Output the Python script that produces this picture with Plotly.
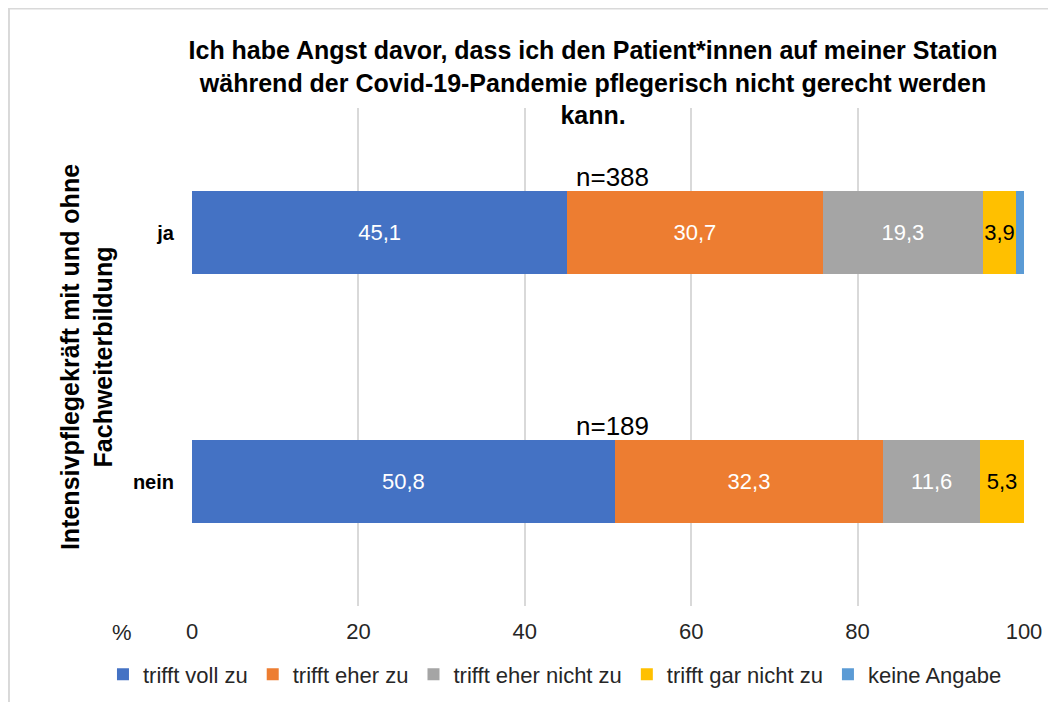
import plotly.graph_objects as go

categories = ["ja", "nein"]
series_names = ["trifft voll zu", "trifft eher zu", "trifft eher nicht zu", "trifft gar nicht zu", "keine Angabe"]
values = {
    "trifft voll zu": [45.1, 50.8],
    "trifft eher zu": [30.7, 32.3],
    "trifft eher nicht zu": [19.3, 11.6],
    "trifft gar nicht zu": [3.9, 5.3],
    "keine Angabe": [1.0, 0.0],
}
n_labels = ["n=388", "n=189"]
colors = ["#4472C4", "#ED7D31", "#A5A5A5", "#FFC000", "#5B9BD5"]
text_colors = ["white", "white", "white", "black", "black"]
show_labels = [True, True, True, True, False]
tick_vals = [0, 20, 40, 60, 80, 100]

FONT = "Liberation Sans, Arial, sans-serif"

fig = go.Figure()
for name, col, tcol, show in zip(series_names, colors, text_colors, show_labels):
    vals = values[name]
    fig.add_trace(go.Bar(
        name=name, y=categories, x=vals, orientation="h",
        marker=dict(color=col, line=dict(width=0)),
        text=[f"{v:.1f}".replace(".", ",") if (show and v > 0) else "" for v in vals],
        textposition="inside", insidetextanchor="middle", textangle=0,
        textfont=dict(color=tcol, size=22, family=FONT),
        constraintext="none",
        hoverinfo="x+name",
    ))

# n= labels above bars
for cat, lab in zip(categories, n_labels):
    fig.add_annotation(x=50.5, y=cat, text=lab, showarrow=False,
                       yshift=56, font=dict(size=26, color="black", family=FONT))

fig.update_layout(
    barmode="stack",
    bargap=0.667,
    width=1056, height=702,
    margin=dict(l=184, r=40, t=100, b=104),
    paper_bgcolor="white", plot_bgcolor="white",
    font=dict(family=FONT, color="#262626"),
    title=dict(
        text="<b>Ich habe Angst davor, dass ich den Patient*innen auf meiner Station<br>während der Covid-19-Pandemie pflegerisch nicht gerecht werden<br>kann.</b>",
        x=0.482, xref="paper", xanchor="center", y=0.927, yanchor="middle",
        font=dict(size=25, color="black", family=FONT),
    ),
    xaxis=dict(range=[0, 100], tickvals=tick_vals, showgrid=True, gridcolor="#D9D9D9",
               gridwidth=1.5, zeroline=False, showline=False,
               tickfont=dict(size=22, color="#262626"), ticks="", ticklabelstandoff=10),
    yaxis=dict(autorange="reversed", showgrid=False, zeroline=False, showline=False,
               tickfont=dict(size=20, color="black", family=FONT, weight="bold"),
               ticks="", ticklabelstandoff=17,
               title=dict(text="<b>Intensivpflegekräft mit und ohne<br>Fachweiterbildung</b>",
                          font=dict(size=25, color="black", family=FONT), standoff=13)),
    legend=dict(orientation="h", x=-0.107, xanchor="left", y=-0.1376, yanchor="middle",
                font=dict(size=22, color="#262626"), traceorder="normal",
                itemwidth=30, bgcolor="rgba(0,0,0,0)"),
    showlegend=True,
)

fig.add_annotation(xref="paper", yref="paper", x=-0.084, y=-0.053, text="%",
                   xanchor="center", yanchor="middle",
                   showarrow=False, font=dict(size=22, color="#262626"))

fig.add_shape(type="rect", xref="paper", yref="paper",
              x0=-0.22, x1=1.2, y0=-0.3, y1=1.1998,
              line=dict(color="#D9D9D9", width=2), fillcolor="rgba(0,0,0,0)", layer="below")

fig.write_html("out.html")
